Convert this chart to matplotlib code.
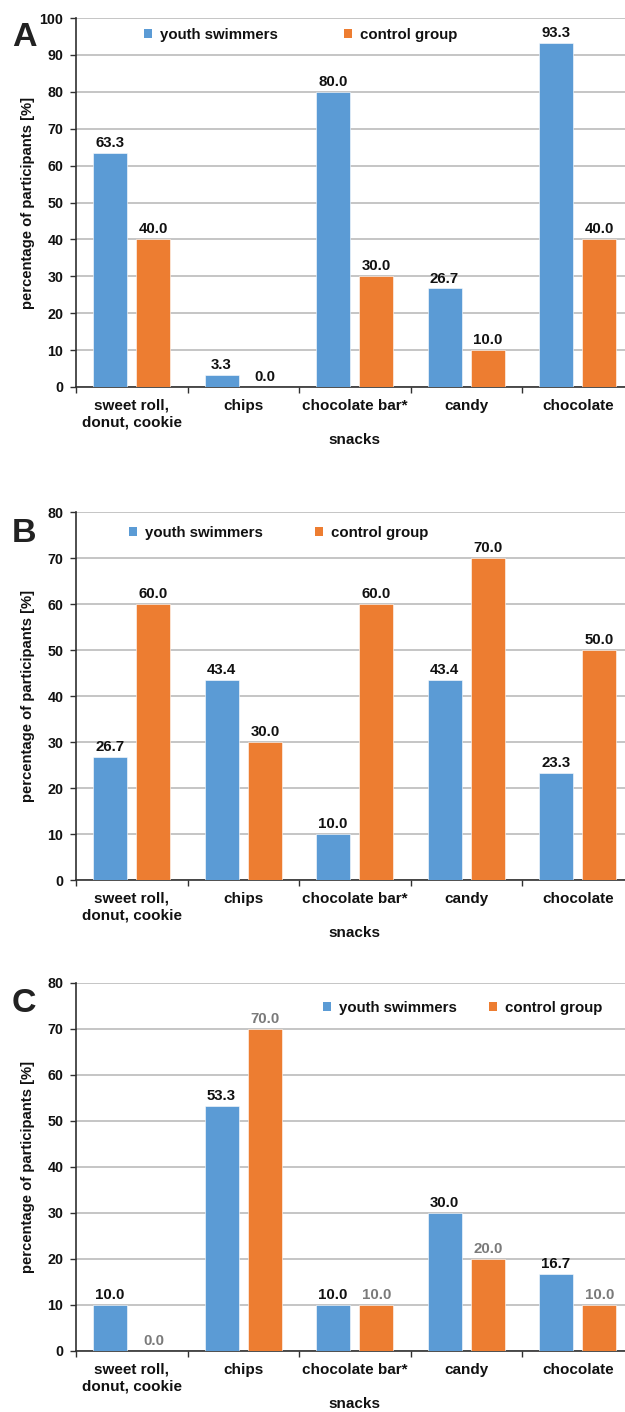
import matplotlib
matplotlib.use("Agg")
import matplotlib.pyplot as plt
from matplotlib.patches import Patch
import numpy as np

plt.rcParams['font.family'] = ['Liberation Sans', 'DejaVu Sans']
plt.rcParams['font.weight'] = 'bold'

# ---------------- data ----------------
categories = ["sweet roll,\ndonut, cookie", "chips", "chocolate bar*", "candy", "chocolate"]
series_names = ["youth swimmers", "control group"]

swimmers_A = [63.3, 3.3, 80.0, 26.7, 93.3]
control_A = [40.0, 0.0, 30.0, 10.0, 40.0]

swimmers_B = [26.7, 43.4, 10.0, 43.4, 23.3]
control_B = [60.0, 30.0, 60.0, 70.0, 50.0]

swimmers_C = [10.0, 53.3, 10.0, 30.0, 16.7]
control_C = [0.0, 70.0, 10.0, 20.0, 10.0]

yticks_A = [0, 10, 20, 30, 40, 50, 60, 70, 80, 90, 100]
yticks_BC = [0, 10, 20, 30, 40, 50, 60, 70, 80]

panel_letters = ["A", "B", "C"]
xlabel_text = "snacks"
ylabel_text = "percentage of participants [%]"

# ---------------- style ----------------
BLUE = '#5B9BD5'
ORANGE = '#ED7D31'
DARK = '#111111'
GRAY = '#7a7a7a'
GRID = '#c0c0c0'

W, H = 625, 1412
fig = plt.figure(figsize=(W / 100, H / 100), dpi=100)

CAT_W = 111.5
LEFT = 76

panels = [
    dict(top=18, bottom=387, ticks=yticks_A, sw=swimmers_A, cg=control_A,
         cg_color=DARK, leg=[(144, 35), (344, 35)], letter_base=46),
    dict(top=512, bottom=880, ticks=yticks_BC, sw=swimmers_B, cg=control_B,
         cg_color=DARK, leg=[(129, 533), (315, 533)], letter_base=542),
    dict(top=983, bottom=1351, ticks=yticks_BC, sw=swimmers_C, cg=control_C,
         cg_color=GRAY, leg=[(323, 1008), (489, 1008)], letter_base=1012),
]

x = np.arange(len(categories))
bw = 0.305
off = 0.195

for p, letter in zip(panels, panel_letters):
    ax_h = p['bottom'] - p['top']
    ax = fig.add_axes([LEFT / W, 1 - p['bottom'] / H, CAT_W * 5 / W, ax_h / H])
    ymax = p['ticks'][-1]
    ax.set_ylim(0, ymax)
    ax.set_xlim(-0.5, len(categories) - 0.5)

    b1 = ax.bar(x - off, p['sw'], bw, color=BLUE, edgecolor='white', linewidth=0.4, zorder=3)
    b2 = ax.bar(x + off, p['cg'], bw, color=ORANGE, edgecolor='white', linewidth=0.4, zorder=3)

    for rect, v in zip(b1, p['sw']):
        ax.annotate(f"{v:.1f}", (rect.get_x() + rect.get_width() / 2, v),
                    xytext=(0, 4.3), textcoords='offset points', ha='center', va='baseline',
                    fontsize=10.8, fontweight='bold', color=DARK, zorder=4)
    for rect, v in zip(b2, p['cg']):
        ax.annotate(f"{v:.1f}", (rect.get_x() + rect.get_width() / 2, v),
                    xytext=(0, 4.3), textcoords='offset points', ha='center', va='baseline',
                    fontsize=10.8, fontweight='bold', color=p['cg_color'], zorder=4)

    # grid
    ax.set_yticks(p['ticks'])
    ax.yaxis.grid(True, color=GRID, linewidth=1.3, zorder=0)
    ax.set_axisbelow(True)
    ax.tick_params(axis='y', direction='out', length=4, width=1.0, color='#303030',
                   pad=5, labelsize=10.3, labelcolor=DARK)
    for lab in ax.get_yticklabels():
        lab.set_fontweight('bold')

    # x ticks: major at boundaries, minor labels at centers
    ax.set_xticks(np.arange(-0.5, len(categories) + 0.5, 1.0))
    ax.set_xticklabels([])
    ax.set_xticks(x, minor=True)
    ax.set_xticklabels(categories, minor=True, fontsize=11, fontweight='bold',
                       color=DARK, linespacing=1.2)
    ax.tick_params(axis='x', which='major', direction='out', length=4, width=1.0, color='#303030')
    ax.tick_params(axis='x', which='minor', length=0, pad=8.5)

    for s in ['top', 'right']:
        ax.spines[s].set_visible(False)
    for s in ['left', 'bottom']:
        ax.spines[s].set_color('#303030')
        ax.spines[s].set_linewidth(1.2)

    ax.set_xlabel(xlabel_text, fontsize=11, fontweight='bold', color=DARK)
    ax.xaxis.set_label_coords(0.5, -53 / ax_h)
    ax.xaxis.label.set_va('center')
    ax.set_ylabel(ylabel_text, fontsize=10.7, fontweight='bold', color=DARK)
    ax.yaxis.set_label_coords((28 - LEFT) / (CAT_W * 5), 0.5)
    ax.yaxis.label.set_va('center')

    # panel letter
    fig.text(12 / W, 1 - p['letter_base'] / H, letter, fontsize=24.5, fontweight='bold',
             color='#222222', ha='left', va='baseline')

    # legend entries
    for (lx, ly), col, name in zip(p['leg'], [BLUE, ORANGE], series_names):
        fig.legend([Patch(facecolor=col, edgecolor='none')], [name], loc='center left',
                   bbox_to_anchor=(lx / W, 1 - ly / H), bbox_transform=fig.transFigure,
                   frameon=False, borderpad=0, borderaxespad=0, handlelength=0.53,
                   handleheight=0.53, handletextpad=0.55,
                   prop=dict(family='Liberation Sans', weight='bold', size=10.8),
                   labelcolor=DARK)

fig.savefig("out.png", dpi=100)
